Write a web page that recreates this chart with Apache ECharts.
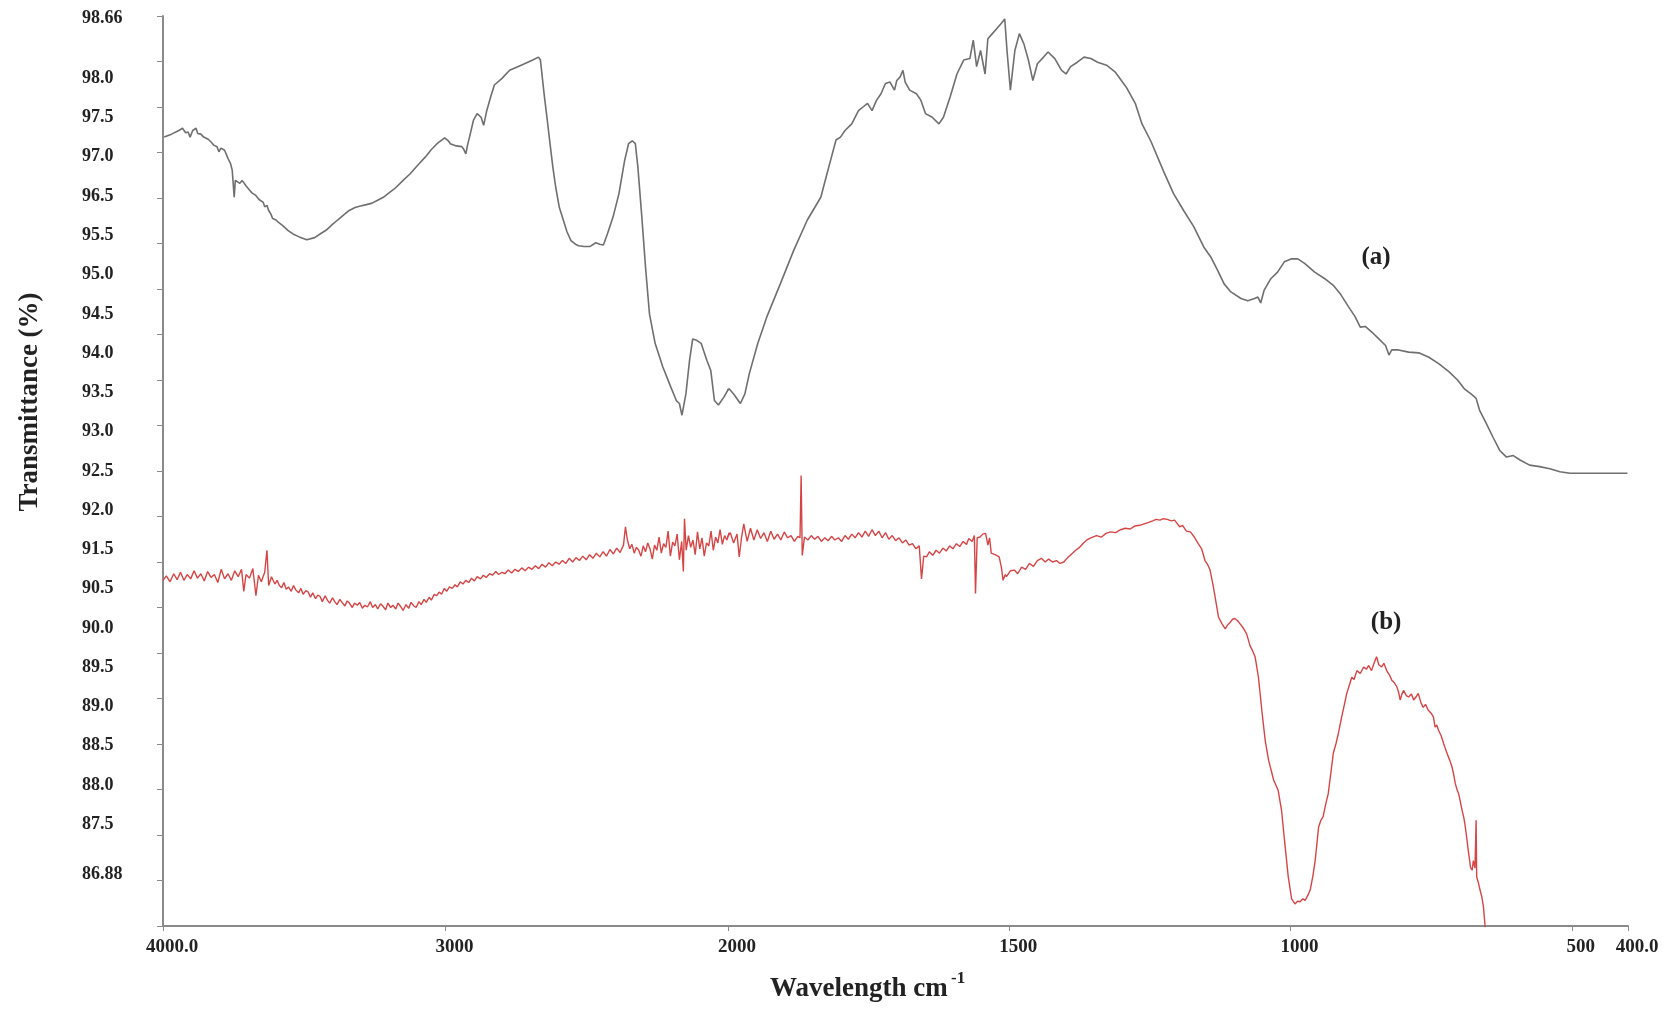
<!DOCTYPE html>
<html>
<head>
<meta charset="utf-8">
<script src="https://cdn.jsdelivr.net/npm/echarts@6/dist/echarts.min.js"></script>
<style>
html,body{margin:0;padding:0;background:#ffffff;}
#chart{width:1677px;height:1009px;}
</style>
</head>
<body>
<div id="chart"></div>
<script>
// ---------- tick labels ----------
const yTickLabels = ['98.66','98.0','97.5','97.0','96.5','95.5','95.0','94.5','94.0','93.5','93.0','92.5',
  '92.0','91.5','90.5','90.0','89.5','89.0','88.5','88.0','87.5','86.88'];
const xTickValuesHigh = [4000, 3000, 2000];
const xTickValuesLow = [1500, 1000, 500, 400];
const xTickLabels = {4000:'4000.0', 3000:'3000', 2000:'2000', 1500:'1500', 1000:'1000', 500:'500', 400:'400.0'};
const yTitle = 'Transmittance (%)';
const xTitle = 'Wavelength cm';
const xTitleSup = '-1';
const curveLabels = ['(a)', '(b)'];

// ---------- spectrum (a): [wavenumber, transmittance] ----------
const spectrumA = [
[3996,97.01],[3970,97.05],[3944,97.10],[3931,97.13],[3920,97.07],[3911,97.08],[3904,97.01],[3895,97.10],[3883,97.13],[3877,97.06],
[3866,97.05],[3856,97.01],[3840,96.98],[3829,96.94],[3820,96.90],[3809,96.88],[3802,96.81],[3795,96.86],[3782,96.83],[3770,96.72],
[3761,96.65],[3755,96.56],[3748,96.19],[3744,96.42],[3737,96.40],[3728,96.38],[3720,96.42],[3707,96.35],[3694,96.29],[3685,96.25],
[3673,96.22],[3660,96.16],[3653,96.15],[3645,96.12],[3640,96.06],[3632,96.08],[3626,96.01],[3618,95.96],[3612,95.90],[3600,95.88],
[3592,95.85],[3575,95.80],[3558,95.74],[3540,95.69],[3518,95.65],[3491,95.61],[3463,95.64],[3440,95.70],[3423,95.74],[3400,95.82],
[3382,95.88],[3360,95.95],[3341,96.01],[3320,96.05],[3301,96.07],[3280,96.09],[3260,96.11],[3240,96.15],[3220,96.19],[3200,96.25],
[3179,96.31],[3150,96.42],[3125,96.51],[3100,96.62],[3071,96.74],[3050,96.84],[3030,96.92],[3003,97.00],[2990,96.96],[2983,96.92],
[2962,96.89],[2942,96.88],[2935,96.84],[2928,96.78],[2922,96.90],[2915,97.01],[2901,97.24],[2888,97.33],[2874,97.28],[2865,97.17],
[2854,97.37],[2840,97.56],[2827,97.72],[2800,97.81],[2773,97.92],[2732,97.99],[2691,98.06],[2671,98.10],[2664,98.06],[2651,97.60],
[2640,97.25],[2630,96.92],[2620,96.60],[2610,96.33],[2597,96.05],[2583,95.88],[2570,95.72],[2556,95.60],[2540,95.55],[2529,95.53],
[2510,95.52],[2488,95.52],[2468,95.57],[2454,95.55],[2441,95.54],[2427,95.69],[2407,95.92],[2386,96.24],[2366,96.69],[2352,96.92],
[2339,96.96],[2328,96.92],[2319,96.60],[2305,95.92],[2292,95.24],[2278,94.60],[2258,94.20],[2231,93.88],[2203,93.61],[2183,93.42],
[2172,93.38],[2163,93.22],[2149,93.51],[2136,93.97],[2125,94.26],[2111,94.24],[2095,94.20],[2075,93.97],[2061,93.83],[2048,93.42],
[2034,93.36],[2014,93.47],[1998,93.58],[1990,93.51],[1978,93.38],[1970,93.51],[1962,93.79],[1947,94.20],[1931,94.56],[1907,95.01],
[1883,95.47],[1859,95.88],[1835,96.19],[1824,96.51],[1816,96.74],[1808,96.97],[1800,97.01],[1792,97.10],[1780,97.19],[1768,97.37],
[1760,97.42],[1752,97.47],[1744,97.37],[1736,97.51],[1728,97.60],[1720,97.74],[1712,97.76],[1704,97.65],[1700,97.78],[1694,97.83],
[1689,97.92],[1685,97.76],[1677,97.65],[1665,97.60],[1657,97.51],[1649,97.33],[1637,97.28],[1625,97.19],[1617,97.28],[1605,97.56],
[1593,97.87],[1581,98.06],[1570,98.08],[1564,98.33],[1558,97.97],[1551,98.19],[1543,97.87],[1538,98.35],[1530,98.42],[1522,98.49],
[1514,98.56],[1508,98.62],[1504,98.19],[1498,97.65],[1490,98.19],[1482,98.42],[1474,98.28],[1466,98.06],[1458,97.78],[1450,98.01],
[1439,98.10],[1431,98.17],[1419,98.08],[1407,97.92],[1399,97.87],[1391,97.97],[1379,98.03],[1367,98.10],[1355,98.08],[1343,98.03],
[1327,97.99],[1312,97.90],[1292,97.69],[1276,97.47],[1264,97.19],[1248,96.95],[1226,96.55],[1208,96.24],[1190,96.01],[1172,95.79],
[1154,95.51],[1142,95.38],[1130,95.20],[1118,95.01],[1106,94.90],[1088,94.81],[1076,94.78],[1064,94.81],[1058,94.83],[1053,94.75],
[1047,94.92],[1035,95.08],[1023,95.17],[1011,95.31],[999,95.35],[987,95.35],[975,95.29],[957,95.17],[939,95.08],[924,94.99],
[912,94.88],[897,94.70],[885,94.56],[876,94.42],[867,94.43],[855,94.35],[843,94.26],[831,94.17],[825,94.04],[820,94.11],
[808,94.11],[790,94.08],[772,94.07],[754,94.01],[736,93.92],[718,93.81],[703,93.70],[691,93.58],[679,93.51],[670,93.45],
[664,93.29],[652,93.11],[640,92.92],[628,92.74],[616,92.65],[604,92.67],[592,92.61],[575,92.54],[557,92.52],[539,92.49],
[521,92.45],[503,92.43],[473,92.43],[443,92.43],[401,92.43]
];

// ---------- spectrum (b): [wavenumber, transmittance] ----------
const spectrumB = [
[4000,90.97],[3988,91.03],[3975,90.95],[3962,91.06],[3950,90.98],[3938,91.08],[3926,90.97],[3914,91.05],[3902,90.99],[3890,91.10],
[3878,91.00],[3866,91.06],[3854,90.96],[3842,91.09],[3830,91.01],[3818,91.05],[3806,90.94],[3794,91.12],[3782,90.99],[3770,91.06],
[3758,90.97],[3746,91.10],[3734,91.02],[3722,91.12],[3714,90.82],[3706,91.05],[3694,91.00],[3682,91.13],[3671,90.76],[3662,91.04],
[3652,90.95],[3640,91.08],[3632,91.38],[3626,90.90],[3616,91.02],[3604,90.92],[3596,90.97],[3588,90.90],[3580,90.87],[3572,90.94],
[3564,90.85],[3556,90.88],[3546,90.82],[3538,90.90],[3530,90.84],[3520,90.80],[3512,90.86],[3504,90.78],[3494,90.83],[3486,90.81],
[3478,90.74],[3470,90.80],[3460,90.72],[3452,90.77],[3444,90.75],[3436,90.68],[3426,90.76],[3418,90.70],[3410,90.66],[3400,90.73],
[3392,90.68],[3384,90.64],[3374,90.71],[3366,90.67],[3356,90.62],[3348,90.69],[3340,90.66],[3330,90.60],[3322,90.66],[3312,90.63],
[3304,90.67],[3294,90.59],[3286,90.63],[3276,90.61],[3266,90.68],[3258,90.60],[3248,90.64],[3240,90.58],[3230,90.65],[3222,90.62],
[3212,90.57],[3204,90.66],[3194,90.60],[3186,90.63],[3176,90.58],[3168,90.66],[3158,90.61],[3150,90.56],[3140,90.64],[3130,90.59],
[3122,90.67],[3112,90.62],[3104,90.60],[3094,90.68],[3086,90.64],[3076,90.71],[3068,90.67],[3058,90.74],[3050,90.70],[3040,90.78],
[3032,90.76],[3022,90.81],[3014,90.78],[3004,90.86],[2996,90.82],[2986,90.88],[2976,90.86],[2966,90.91],[2958,90.88],[2948,90.95],
[2938,90.92],[2928,90.97],[2918,90.94],[2908,91.00],[2898,90.96],[2888,91.02],[2876,90.99],[2866,91.04],[2856,91.01],[2844,91.06],
[2834,91.04],[2822,91.09],[2812,91.05],[2800,91.08],[2790,91.06],[2778,91.11],[2766,91.07],[2754,91.12],[2742,91.09],[2730,91.14],
[2718,91.10],[2706,91.15],[2694,91.12],[2682,91.17],[2670,91.13],[2658,91.19],[2646,91.15],[2634,91.21],[2622,91.17],[2610,91.22],
[2598,91.19],[2586,91.24],[2574,91.20],[2562,91.27],[2550,91.22],[2538,91.28],[2526,91.24],[2514,91.30],[2502,91.25],[2490,91.32],
[2478,91.27],[2466,91.34],[2454,91.29],[2442,91.36],[2430,91.30],[2418,91.39],[2406,91.33],[2394,91.41],[2382,91.35],[2370,91.45],
[2363,91.70],[2356,91.52],[2348,91.40],[2340,91.46],[2332,91.34],[2324,91.42],[2316,91.38],[2308,91.30],[2300,91.44],[2292,91.36],
[2284,91.48],[2276,91.40],[2268,91.26],[2260,91.45],[2252,91.38],[2244,91.56],[2236,91.34],[2228,91.47],[2220,91.42],[2212,91.64],
[2204,91.30],[2196,91.49],[2188,91.44],[2180,91.60],[2172,91.25],[2164,91.50],[2158,91.09],[2154,91.81],[2148,91.38],[2140,91.58],
[2132,91.42],[2124,91.52],[2116,91.32],[2108,91.63],[2100,91.40],[2092,91.55],[2084,91.30],[2076,91.48],[2068,91.44],[2060,91.64],
[2052,91.38],[2044,91.56],[2036,91.48],[2028,91.66],[2020,91.46],[2012,91.58],[2004,91.52],[1996,91.62],[1990,91.48],[1984,91.60],
[1980,91.29],[1976,91.55],[1972,91.74],[1966,91.50],[1960,91.68],[1954,91.52],[1948,91.66],[1942,91.54],[1936,91.62],[1930,91.50],
[1924,91.64],[1918,91.53],[1912,91.60],[1906,91.52],[1900,91.63],[1894,91.55],[1888,91.58],[1882,91.50],[1876,91.57],[1872,91.55],
[1870,92.40],[1868,91.31],[1864,91.56],[1858,91.52],[1852,91.58],[1846,91.53],[1840,91.57],[1834,91.50],[1828,91.55],[1822,91.51],
[1816,91.57],[1810,91.52],[1804,91.55],[1798,91.50],[1792,91.58],[1786,91.53],[1780,91.60],[1774,91.55],[1768,91.62],[1762,91.56],
[1756,91.64],[1750,91.57],[1744,91.66],[1738,91.58],[1732,91.64],[1726,91.55],[1720,91.62],[1714,91.53],[1708,91.58],[1702,91.51],
[1696,91.55],[1690,91.48],[1684,91.52],[1678,91.45],[1672,91.47],[1666,91.40],[1660,91.44],[1656,90.99],[1652,91.30],[1647,91.29],
[1642,91.36],[1636,91.31],[1630,91.38],[1624,91.34],[1618,91.41],[1612,91.37],[1606,91.44],[1600,91.40],[1594,91.47],[1588,91.43],
[1582,91.50],[1576,91.46],[1572,91.54],[1566,91.50],[1562,91.58],[1560,90.79],[1557,91.55],[1552,91.56],[1547,91.60],[1542,91.61],
[1538,91.45],[1535,91.55],[1532,91.34],[1525,91.32],[1518,91.29],[1514,91.15],[1511,90.97],[1507,91.05],[1505,91.02],[1498,91.10],
[1491,91.11],[1485,91.06],[1478,91.15],[1471,91.12],[1464,91.20],[1457,91.16],[1450,91.24],[1443,91.27],[1436,91.22],[1430,91.26],
[1423,91.22],[1416,91.24],[1410,91.20],[1403,91.22],[1396,91.28],[1389,91.33],[1382,91.38],[1375,91.42],[1368,91.48],[1362,91.52],
[1355,91.55],[1345,91.58],[1336,91.56],[1328,91.61],[1320,91.63],[1311,91.62],[1302,91.66],[1294,91.68],[1285,91.67],[1277,91.71],
[1268,91.72],[1260,91.74],[1252,91.76],[1245,91.78],[1239,91.80],[1232,91.79],[1226,91.81],[1219,91.80],[1212,91.78],[1206,91.79],
[1202,91.75],[1197,91.70],[1192,91.72],[1185,91.64],[1178,91.63],[1171,91.56],[1164,91.47],[1158,91.40],[1152,91.24],[1147,91.18],
[1143,91.11],[1138,90.92],[1134,90.74],[1128,90.47],[1122,90.38],[1116,90.31],[1112,90.36],[1107,90.40],[1103,90.44],[1099,90.45],
[1094,90.42],[1090,90.38],[1084,90.32],[1078,90.24],[1072,90.08],[1068,90.02],[1063,89.93],[1057,89.65],[1051,89.20],[1045,88.79],
[1039,88.52],[1030,88.25],[1022,88.11],[1016,87.84],[1010,87.38],[1004,86.93],[998,86.63],[992,86.56],[987,86.60],[983,86.59],
[978,86.63],[974,86.61],[969,86.68],[965,86.75],[960,86.95],[956,87.16],[950,87.61],[946,87.70],[942,87.75],[938,87.90],
[933,88.06],[929,88.30],[924,88.61],[919,88.75],[915,88.88],[909,89.11],[905,89.25],[900,89.43],[895,89.55],[891,89.65],
[887,89.62],[882,89.74],[876,89.70],[870,89.79],[865,89.76],[861,89.81],[856,89.74],[851,89.85],[847,89.93],[843,89.82],
[838,89.79],[834,89.84],[829,89.74],[824,89.68],[820,89.61],[815,89.57],[811,89.52],[808,89.45],[805,89.34],[802,89.42],
[799,89.47],[794,89.40],[790,89.38],[785,89.42],[781,89.34],[777,89.38],[773,89.43],[768,89.30],[764,89.24],[760,89.28],
[755,89.20],[750,89.16],[746,89.11],[743,88.97],[740,89.00],[737,88.93],[732,88.85],[728,88.75],[724,88.66],[719,88.56],
[716,88.50],[713,88.43],[710,88.33],[707,88.20],[704,88.12],[701,88.06],[698,87.95],[695,87.84],[692,87.74],[690,87.65],
[687,87.48],[684,87.29],[682,87.18],[680,87.06],[677,87.02],[675,87.15],[672,87.05],[670,87.70],[669,86.93],[666,86.85],
[663,86.75],[660,86.66],[657,86.52],[654,86.25],[650,86.10]
];

// ---------- axis layout ----------
const Y_MAX = 98.66;
const Y_STEP = (98.66 - 86.88) / 19;      // 0.62
const Y_MIN = 86.88 - Y_STEP;              // 86.26
const BREAK = 2000;
const FONT = '"Liberation Serif", "Times New Roman", serif';
const AXIS_GRAY = '#8a8a8a';
const TEXT_COLOR = '#222222';

const yTickValues = [];
for (let i = 0; i <= 20; i++) yTickValues.push(+(Y_MAX - i * Y_STEP).toFixed(4));

// label slots: first at the top, last near bottom tick, the rest evenly spaced
const yLabelValues = yTickLabels.map((t, i) => {
  if (i === 0) return 98.63;
  if (i === yTickLabels.length - 1) return 86.965;
  return +(97.811 - (i - 1) * 0.535).toFixed(4);
});
const yLabelMap = {};
yLabelValues.forEach((v, i) => { yLabelMap[v.toFixed(3)] = yTickLabels[i]; });

function splitAtBreak(data) {
  const hi = data.filter(p => p[0] >= BREAK);
  const lo = data.filter(p => p[0] <= BREAK);
  const firstLo = data.find(p => p[0] < BREAK);
  if (firstLo) hi.push(firstLo);
  const rev = data.slice().reverse();
  const lastHi = rev.find(p => p[0] > BREAK);
  if (lastHi) lo.unshift(lastHi);
  return [hi, lo];
}
const [aHi, aLo] = splitAtBreak(spectrumA);
const [bHi, bLo] = splitAtBreak(spectrumB);

const GRID_TOP = 16, GRID_H = 910;

function xAxisCfg(gridIndex, min, max, ticks) {
  return {
    type: 'value', gridIndex, min, max, inverse: true,
    axisLine: { show: true, onZero: false, lineStyle: { color: AXIS_GRAY, width: 2 } },
    axisTick: { show: true, customValues: ticks, length: 5, inside: false, lineStyle: { color: AXIS_GRAY, width: 1 } },
    axisLabel: {
      show: true, customValues: ticks, margin: 12, showMinLabel: true, showMaxLabel: true,
      formatter: v => xTickLabels[Math.round(v)] || '',
      fontFamily: FONT, fontWeight: 'bold', fontSize: 19, color: TEXT_COLOR,
      padding: [0, 0, 0, 18]
    },
    splitLine: { show: false }
  };
}

const yAxes = [
  {
    type: 'value', gridIndex: 0, min: Y_MIN, max: Y_MAX,
    axisLine: { show: true, onZero: false, lineStyle: { color: AXIS_GRAY, width: 2 } },
    axisTick: { show: true, customValues: yTickValues, length: 6, inside: false, lineStyle: { color: AXIS_GRAY, width: 1 } },
    axisLabel: {
      show: true, customValues: yLabelValues, align: 'left', margin: 81,
      showMinLabel: true, showMaxLabel: true,
      formatter: v => yLabelMap[(+v).toFixed(3)] || '',
      fontFamily: FONT, fontWeight: 'bold', fontSize: 18, color: TEXT_COLOR
    },
    splitLine: { show: false }
  },
  { type: 'value', gridIndex: 1, min: Y_MIN, max: Y_MAX, show: false, splitLine: { show: false } }
];

const lineA = { color: '#6f6f6f', width: 1.6 };
const lineB = { color: '#d64545', width: 1.4 };

function labelPoint(text, coord) {
  return {
    symbol: 'circle', symbolSize: 0, silent: true,
    itemStyle: { color: 'rgba(0,0,0,0)' },
    label: {
      show: true, position: 'inside', formatter: text,
      fontFamily: FONT, fontWeight: 'bold', fontSize: 25, color: TEXT_COLOR
    },
    data: [{ coord }]
  };
}

const option = {
  backgroundColor: '#ffffff',
  animation: false,
  grid: [
    { left: 163, top: GRID_TOP, width: 565, height: GRID_H, outerBoundsMode: 'none', containLabel: false },
    { left: 728, top: GRID_TOP, width: 900, height: GRID_H, outerBoundsMode: 'none', containLabel: false }
  ],
  xAxis: [
    xAxisCfg(0, 2000, 4000, xTickValuesHigh),
    xAxisCfg(1, 400, 2000, xTickValuesLow)
  ],
  yAxis: yAxes,
  series: [
    { type: 'line', name: 'a-high', xAxisIndex: 0, yAxisIndex: 0, data: aHi, showSymbol: false, symbol: 'none', clip: true, lineStyle: lineA, itemStyle: { color: lineA.color } },
    { type: 'line', name: 'a-low', xAxisIndex: 1, yAxisIndex: 1, data: aLo, showSymbol: false, symbol: 'none', clip: true, lineStyle: lineA, itemStyle: { color: lineA.color },
      markPoint: labelPoint(curveLabels[0], [848, 95.37]) },
    { type: 'line', name: 'b-high', xAxisIndex: 0, yAxisIndex: 0, data: bHi, showSymbol: false, symbol: 'none', clip: true, lineStyle: lineB, itemStyle: { color: lineB.color } },
    { type: 'line', name: 'b-low', xAxisIndex: 1, yAxisIndex: 1, data: bLo, showSymbol: false, symbol: 'none', clip: true, lineStyle: lineB, itemStyle: { color: lineB.color },
      markPoint: labelPoint(curveLabels[1], [830, 90.40]) }
  ],
  graphic: [
    { type: 'text', x: 30, y: 402, rotation: Math.PI / 2, silent: true,
      style: { text: yTitle, textAlign: 'center', textVerticalAlign: 'middle', align: 'center', verticalAlign: 'middle',
               font: 'bold 27px ' + FONT, fill: TEXT_COLOR } },
    { type: 'text', x: 770, y: 989, silent: true,
      style: { text: xTitle, textAlign: 'left', textVerticalAlign: 'middle', align: 'left', verticalAlign: 'middle',
               font: 'bold 27px ' + FONT, fill: TEXT_COLOR } },
    { type: 'text', x: 951, y: 979, silent: true,
      style: { text: xTitleSup, textAlign: 'left', textVerticalAlign: 'middle', align: 'left', verticalAlign: 'middle',
               font: 'bold 17px ' + FONT, fill: TEXT_COLOR } }
  ]
};

const chart = echarts.init(document.getElementById('chart'), null, { renderer: 'canvas', width: 1677, height: 1009 });
chart.setOption(option);
</script>
</body>
</html>
